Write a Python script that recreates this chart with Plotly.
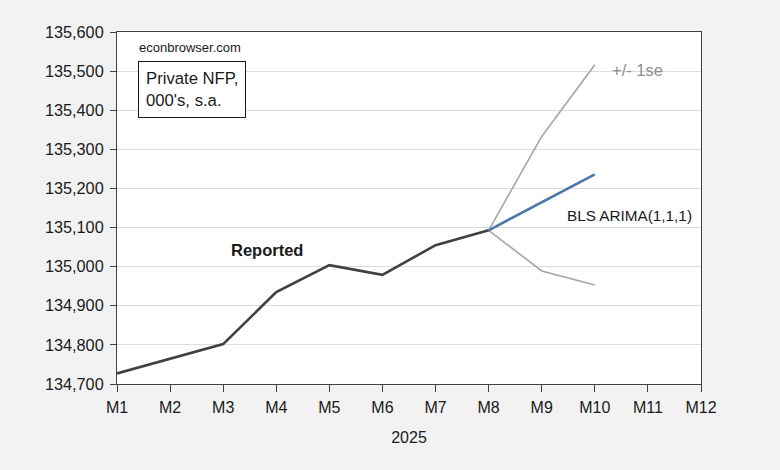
import plotly.graph_objects as go

months = ["M1", "M2", "M3", "M4", "M5", "M6", "M7", "M8", "M9", "M10", "M11", "M12"]
reported = [134727, 134764, 134802, 134935, 135004, 134979, 135055, 135093]
forecast_months = ["M8", "M9", "M10"]
forecast = [135093, 135165, 135236]
upper = [135093, 135333, 135516]
lower = [135093, 134989, 134953]
yticks = list(range(134700, 135601, 100))

idx = {m: i + 1 for i, m in enumerate(months)}
xr = [idx[m] for m in months[:len(reported)]]
xf = [idx[m] for m in forecast_months]

fig = go.Figure()
fig.add_trace(go.Scatter(x=xf, y=upper, mode="lines", line=dict(color="#a6a6a6", width=1.6), hoverinfo="skip"))
fig.add_trace(go.Scatter(x=xf, y=lower, mode="lines", line=dict(color="#a6a6a6", width=1.6), hoverinfo="skip"))
fig.add_trace(go.Scatter(x=xr, y=reported, mode="lines", line=dict(color="#404040", width=2.6)))
fig.add_trace(go.Scatter(x=xf, y=forecast, mode="lines", line=dict(color="#4a78a8", width=2.6)))

font = "Liberation Sans, Arial, sans-serif"
fig.update_layout(
    width=780, height=470,
    margin=dict(l=117, r=79, t=32, b=86),
    paper_bgcolor="#f2f2f2", plot_bgcolor="#ffffff",
    showlegend=False,
    font=dict(family=font, color="#1a1a1a", size=15),
    xaxis=dict(
        range=[1, 12], tickvals=list(range(1, 13)), ticktext=months,
        showgrid=False, zeroline=False,
        showline=True, linecolor="#404040", linewidth=1, mirror=True,
        ticks="outside", ticklen=7, tickcolor="#404040", ticklabelstandoff=2,
        tickfont=dict(size=16), title=dict(text="2025", font=dict(size=16), standoff=16),
    ),
    yaxis=dict(
        range=[134700, 135600], tickvals=yticks, tickformat=",",
        showgrid=True, gridcolor="#dcdcdc", gridwidth=1, zeroline=False,
        showline=True, linecolor="#404040", linewidth=1, mirror=True,
        ticks="outside", ticklen=6, tickcolor="#404040", ticklabelstandoff=3,
        tickfont=dict(size=16.3),
    ),
    annotations=[
        dict(text="econbrowser.com", xref="paper", yref="paper", x=0.035, y=0.983,
             xanchor="left", yanchor="top", showarrow=False, font=dict(size=13)),
        dict(text="Private NFP,<br>000's, s.a.", xref="paper", yref="paper", x=0.036, y=0.918,
             xanchor="left", yanchor="top", showarrow=False, align="left",
             font=dict(size=16.7), bordercolor="#1a1a1a", borderwidth=1, borderpad=7,
             bgcolor="#ffffff"),
        dict(text="<b>Reported</b>", x=3.82, y=135043, xanchor="center", yanchor="middle",
             showarrow=False, font=dict(size=16.5)),
        dict(text="BLS ARIMA(1,1,1)", x=11.87, y=135132, xanchor="right", yanchor="middle",
             showarrow=False, font=dict(size=15.3)),
        dict(text="+/- 1se", x=10.28, y=135504, xanchor="left", yanchor="middle",
             showarrow=False, font=dict(size=16.5, color="#8c8c8c")),
    ],
)
fig.write_html("out.html", config={"displayModeBar": False},
               post_script="document.body.style.margin='0';document.body.style.background='#f2f2f2';")
